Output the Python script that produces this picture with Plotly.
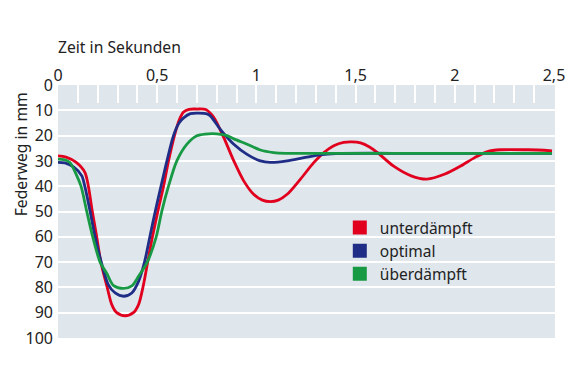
import plotly.graph_objects as go

# Zeit in Sekunden / Federweg in mm
t_unter = [0.0, 0.04, 0.09, 0.136, 0.173, 0.195, 0.216, 0.248, 0.271, 0.296, 0.338, 0.38, 0.406,
           0.428, 0.452, 0.476, 0.503, 0.532, 0.557, 0.587, 0.61, 0.633, 0.66, 0.70, 0.745, 0.785,
           0.835, 0.886, 0.936, 0.986, 1.03, 1.07, 1.11, 1.155, 1.222, 1.29, 1.34, 1.39, 1.44,
           1.48, 1.525, 1.57, 1.61, 1.69, 1.78, 1.86, 1.95, 2.03, 2.10, 2.165, 2.23, 2.37, 2.49]
y_unter = [28.0, 28.5, 30.5, 34.6, 50, 60, 70, 80, 86.8, 90, 91.2, 90, 86.8,
           80, 70, 60, 50, 40, 30, 20, 14, 10.7, 9.6, 9.5, 9.7, 12.8,
           20.7, 30, 37.9, 43.2, 45.5, 46.1, 45.5, 43.2, 37.2, 30.6, 26.7, 24.0, 22.7,
           22.5, 22.9, 24.5, 26.7, 32.0, 35.9, 37.2, 35.2, 32.0, 28.7, 26.3, 25.6, 25.6, 26.0]

t_optimal = [0.0, 0.035, 0.08, 0.12, 0.135, 0.162, 0.187, 0.218, 0.254, 0.288, 0.33, 0.372, 0.406,
             0.436, 0.463, 0.49, 0.519, 0.549, 0.582, 0.61, 0.633, 0.667, 0.71, 0.751, 0.768,
             0.818, 0.886, 0.953, 1.02, 1.07, 1.155, 1.24, 1.32, 1.40, 1.8, 2.2, 2.49]
y_optimal = [30.6, 30.8, 32.5, 35.9, 40, 50, 60, 70, 79, 82.2, 83.5, 82.2, 77.6,
             70, 60, 50, 40, 30, 20, 15, 13, 11.3, 11.1, 11.4, 12.2,
             17.5, 23.4, 27.4, 30.0, 30.6, 30.0, 28.7, 27.6, 27.1, 27.0, 27.0, 27.0]

t_ueber = [0.0, 0.03, 0.06, 0.09, 0.116, 0.145, 0.175, 0.212, 0.246, 0.28, 0.33, 0.372, 0.406,
           0.45, 0.495, 0.523, 0.557, 0.599, 0.65, 0.70, 0.742, 0.80, 0.852, 0.886,
           0.953, 1.02, 1.087, 1.15, 1.6, 2.0, 2.49]
y_ueber = [29.3, 29.5, 30.6, 35, 40, 50, 60, 70, 74.5, 79.3, 80.4, 79.4, 75.6,
           70, 60, 50, 40, 30, 23.4, 20.1, 19.4, 19.3, 20.0, 21.3,
           23.4, 25.7, 26.7, 27.0, 27.0, 27.0, 27.0]

names = ["unterdämpft", "optimal", "überdämpft"]
colors = ["#e1001e", "#1f2d86", "#189a44"]
xs = [t_unter, t_optimal, t_ueber]
ys = [y_unter, y_optimal, y_ueber]

FONT = "Noto Sans"
TXT = "#222222"

fig = go.Figure()
for x, y, n, c in zip(xs, ys, names, colors):
    fig.add_trace(go.Scatter(x=x, y=y, mode="lines", name=n, showlegend=False,
                             line=dict(color=c, width=2.8, shape="spline", smoothing=0.8)))
for n, c in zip(names, colors):
    fig.add_trace(go.Scatter(x=[None], y=[None], mode="markers", name=n,
                             marker=dict(symbol="square", size=14, color=c)))

fig.update_layout(
    width=562, height=370,
    margin=dict(l=50, r=15, t=77, b=40),
    paper_bgcolor="white",
    plot_bgcolor="#dfe6ec",
    separators=", ",
    font=dict(family=FONT, size=16, color=TXT),
    showlegend=True,
    legend=dict(x=0.567, y=0.502, xanchor="left", yanchor="top",
                bgcolor="rgba(0,0,0,0)", itemwidth=30,
                font=dict(family=FONT, size=15.5, color=TXT),
                tracegroupgap=0),
    xaxis=dict(side="top", range=[0, 2.505], dtick=0.5, tick0=0, automargin=False,
               showgrid=False, zeroline=False, showline=False,
               ticks="inside", ticklen=18, tickwidth=2, tickcolor="white",
               minor=dict(dtick=0.1, ticks="inside", ticklen=18, tickwidth=2,
                          tickcolor="white", showgrid=False),
               tickfont=dict(family=FONT, size=16, color=TXT)),
    yaxis=dict(range=[100, 0], dtick=10, tick0=0, automargin=False,
               showgrid=True, gridcolor="white", gridwidth=2,
               zeroline=False, showline=False, ticks="", ticklabelstandoff=4,
               tickfont=dict(family=FONT, size=16, color=TXT)),
    annotations=[
        dict(text="Zeit in Sekunden", xref="paper", yref="paper", x=-0.004, y=1.15,
             xanchor="left", yanchor="middle", showarrow=False,
             font=dict(family=FONT, size=15.7, color=TXT)),
        dict(text="Federweg in mm", xref="paper", yref="paper", x=-0.075, y=0.725,
             xanchor="center", yanchor="middle", textangle=-90, showarrow=False,
             font=dict(family=FONT, size=15.7, color=TXT)),
    ],
)

fig.write_html("out.html")
